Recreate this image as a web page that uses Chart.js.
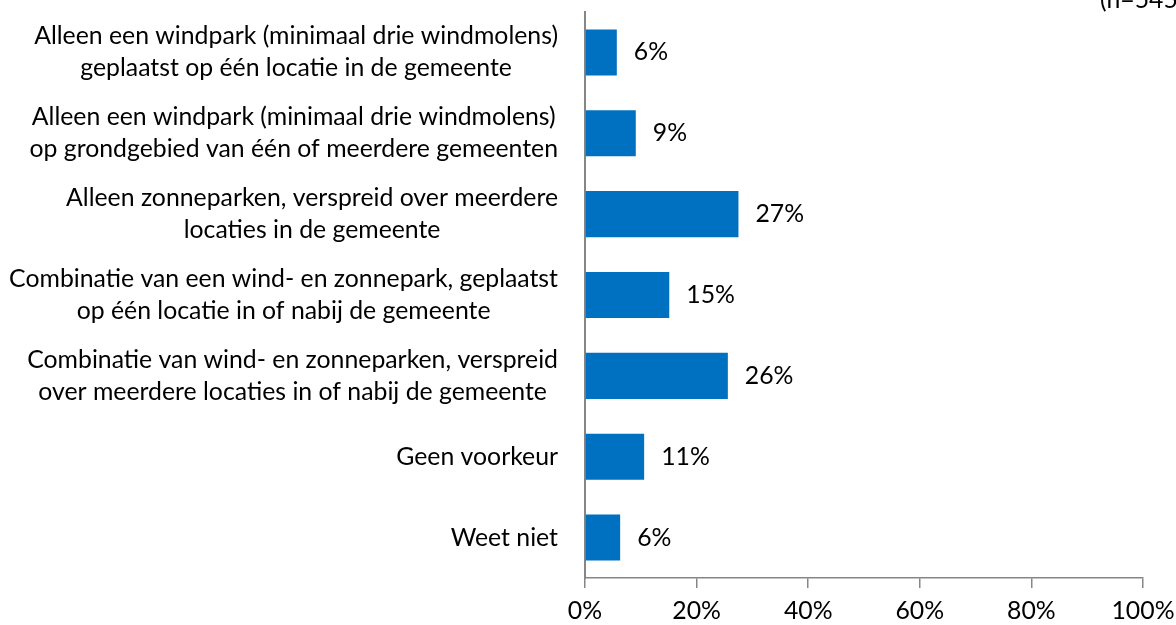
<!DOCTYPE html>
<html>
<head>
<meta charset="utf-8">
<script src="https://cdn.jsdelivr.net/npm/chart.js@4/dist/chart.umd.min.js"></script>
<style>
  html, body { margin: 0; padding: 0; background: #fff; }
  #wrap { width: 1176px; height: 625px; }
</style>
</head>
<body>
<div id="wrap"><canvas id="chart" width="1176" height="625"></canvas></div>
<script>
// categories (each line of the label is one entry)
const categories = [
    ['Alleen een windpark (minimaal drie windmolens)', 'geplaatst op één locatie in de gemeente'],
    ['Alleen een windpark (minimaal drie windmolens)', 'op grondgebied van één of meerdere gemeenten'],
    ['Alleen zonneparken, verspreid over meerdere', 'locaties in de gemeente'],
    ['Combinatie van een wind- en zonnepark, geplaatst', 'op één locatie in of nabij de gemeente'],
    ['Combinatie van wind- en zonneparken, verspreid', 'over meerdere locaties in of nabij de gemeente'],
    ['Geen voorkeur'],
    ['Weet niet']
];
// percentages
const values = [5.7, 9.1, 27.5, 15.1, 25.6, 10.6, 6.3];
// the rounded labels printed next to the bars
const valueLabels = ['6%', '9%', '27%', '15%', '26%', '11%', '6%'];
const xTicks = [0, 20, 40, 60, 80, 100];
const sampleNote = '(n=545)';

const barBlue = '#0070C0';
const axisGrey = '#868686';
const textColor = '#000000';
const fontFamily = 'Lato, "Open Sans", sans-serif';
const fontSize = 24.8;

// category labels: block right-aligned, lines centred inside it (like Excel)
const categoryLabels = {
    id: 'categoryLabels',
    afterDraw(chart) {
        const c = chart.ctx;
        const y = chart.scales.y;
        const right = chart.chartArea.left - 27;
        const lineH = 32;
        c.save();
        c.font = fontSize + 'px ' + fontFamily;
        c.fillStyle = textColor;
        c.textBaseline = 'middle';
        c.textAlign = 'center';
        categories.forEach((lines, i) => {
            const w = Math.max(...lines.map(l => c.measureText(l).width));
            const cx = right - w / 2;
            const cy = y.getPixelForValue(i);
            const top = cy - (lines.length - 1) * lineH / 2;
            lines.forEach((l, k) => c.fillText(l, cx, top + k * lineH));
        });
        c.restore();
    }
};

// value labels next to each bar
const valueLabelPlugin = {
    id: 'valueLabels',
    afterDatasetsDraw(chart) {
        const c = chart.ctx;
        const meta = chart.getDatasetMeta(0);
        c.save();
        c.font = fontSize + 'px ' + fontFamily;
        c.fillStyle = textColor;
        c.textBaseline = 'middle';
        c.textAlign = 'left';
        meta.data.forEach((bar, i) => {
            c.fillText(valueLabels[i], bar.x + 17, bar.y);
        });
        // sample size note, cut off at the top edge
        c.textBaseline = 'alphabetic';
        c.fillText(sampleNote, 1100, 8);
        c.restore();
    }
};

const ctx = document.getElementById('chart');
new Chart(ctx, {
    type: 'bar',
    data: {
        labels: categories.map(l => l.join(' ')),
        datasets: [{
            data: values,
            backgroundColor: barBlue,
            borderWidth: 0,
            barPercentage: 0.57,
            categoryPercentage: 1.0
        }]
    },
    options: {
        indexAxis: 'y',
        responsive: false,
        animation: false,
        layout: { padding: { top: 12, right: 0, left: 0, bottom: 0 } },
        plugins: {
            legend: { display: false },
            tooltip: { enabled: false }
        },
        scales: {
            x: {
                min: 0,
                max: 100,
                afterBuildTicks: (scale) => {
                    scale.ticks = xTicks.map(v => ({ value: v }));
                },
                afterFit: (scale) => {
                    scale.height = 47;
                    scale.paddingRight = 33;
                },
                grid: {
                    drawOnChartArea: false,
                    drawTicks: true,
                    tickLength: 10,
                    color: axisGrey,
                    lineWidth: 1.5
                },
                border: { display: true, color: axisGrey, width: 1.5 },
                ticks: {
                    font: { family: fontFamily, size: fontSize },
                    color: textColor,
                    padding: 8,
                    maxRotation: 0,
                    callback: (v) => v + '%'
                }
            },
            y: {
                grid: { display: false },
                border: { display: true, color: axisGrey, width: 2 },
                ticks: { display: false },
                afterFit: (scale) => { scale.width = 585; }
            }
        }
    },
    plugins: [categoryLabels, valueLabelPlugin]
});
</script>
</body>
</html>
